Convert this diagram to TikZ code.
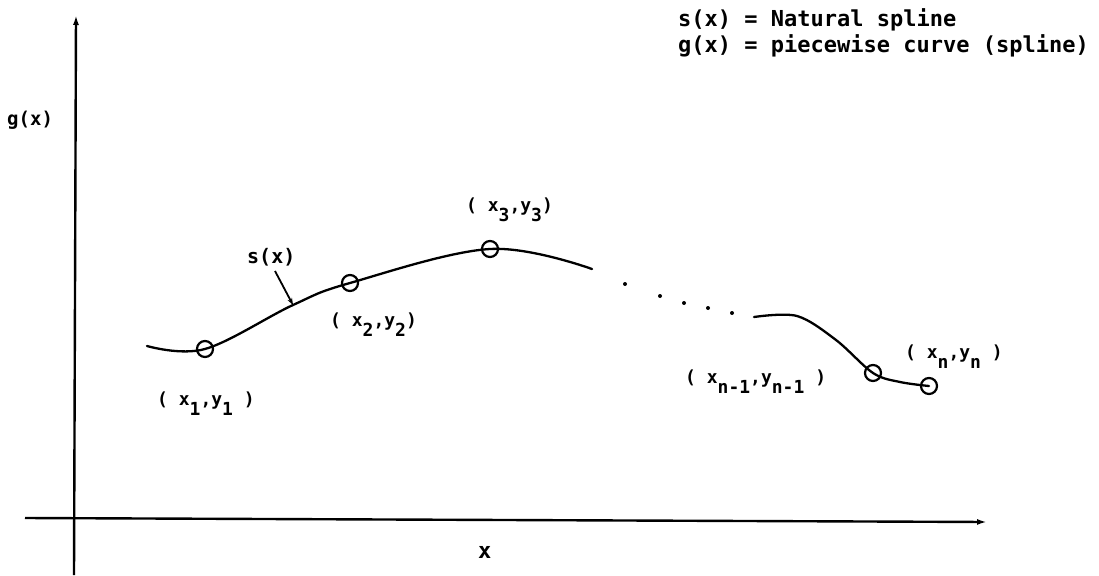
\documentclass[tikz,border=0pt]{standalone}
\usepackage{fontspec}
\setmainfont{DejaVu Sans Mono}
\usetikzlibrary{arrows.meta}
\newcommand\lowr[1]{\raisebox{-0.6em}{#1}}
\tikzset{
  axis/.style={line width=2.4pt,-{Latex[length=10pt,width=6pt]}},
  curve/.style={line width=2.3pt,line cap=round},
  pt/.style={circle,draw,line width=2.2pt,minimum size=16pt,inner sep=0pt},
  lbl/.style={anchor=base west,inner sep=0pt,font=\fontsize{18}{20}\selectfont\bfseries},
  big/.style={anchor=base west,inner sep=0pt,font=\fontsize{22}{26}\selectfont\bfseries},
  dotp/.style={circle,fill,inner sep=0pt,minimum size=4pt},
}
\begin{document}
\begin{tikzpicture}[x=1pt,y=-1pt]
\useasboundingbox (0,0) rectangle (1099,575);
% axes
\coordinate (ybot) at (74,575);
\coordinate (ytop) at (76,15);
\coordinate (xl) at (25,518);
\coordinate (xr) at (987,522);
\draw[axis] (ybot) -- (ytop);
\draw[axis] (xl) -- (xr);
\node[big] (xlab) at (478,558) {x};
\node[big,font=\fontsize{19}{22}\selectfont\bfseries] (glab) at (7,125) {g(x)};
% legend
\node[big] (leg1) at (678,27) {s(x) = Natural spline};
\node[big] (leg2) at (678,53) {g(x) = piecewise curve (spline)};
% points
\node[pt] (p1) at (205,349) {};
\node[pt] (p2) at (350,283) {};
\node[pt] (p3) at (490,249) {};
\node[pt] (pm) at (873,373) {};
\node[pt] (pn) at (929,386) {};
% curves
\coordinate (c0) at (147,346);
\coordinate (cb) at (293,305);
\coordinate (ce) at (592,269);
\draw[curve] plot[smooth,tension=0.6] coordinates {(c0) (p1.center) (cb) (p2.center) (p3.center) (ce)};
\coordinate (d0) at (754,317);
\coordinate (d1) at (797,316);
\coordinate (d2) at (836,340);
\coordinate (d4) at (900,382);
\draw[curve] plot[smooth,tension=0.55] coordinates {(d0) (d1) (d2) (pm.center) (d4) (pn.center)};
% dots
\node[dotp] (k1) at (625,284) {};
\node[dotp] (k2) at (660,296) {};
\node[dotp] (k3) at (684,303) {};
\node[dotp] (k4) at (708,308) {};
\node[dotp] (k5) at (732,313) {};
% s(x) label
\node[lbl,font=\fontsize{20}{22}\selectfont\bfseries] (slab) at (247,263) {s(x)};
\coordinate (sa) at (275,271);
\coordinate (sb) at (293,305);
\draw[line width=1.8pt,-{Stealth[length=7pt,width=5pt]}] (sa) -- (sb);
% point labels
\node[lbl] (l1) at (157,405) {( x\lowr{1},y\lowr{1} )};
\node[lbl] (l2) at (330,326) {( x\lowr{2},y\lowr{2})};
\node[lbl] (l3) at (466,211) {( x\lowr{3},y\lowr{3})};
\node[lbl] (lm) at (685,383) {( x\lowr{n-1},y\lowr{n-1} )};
\node[lbl] (ln) at (905,358) {( x\lowr{n},y\lowr{n} )};
\end{tikzpicture}
\end{document}
